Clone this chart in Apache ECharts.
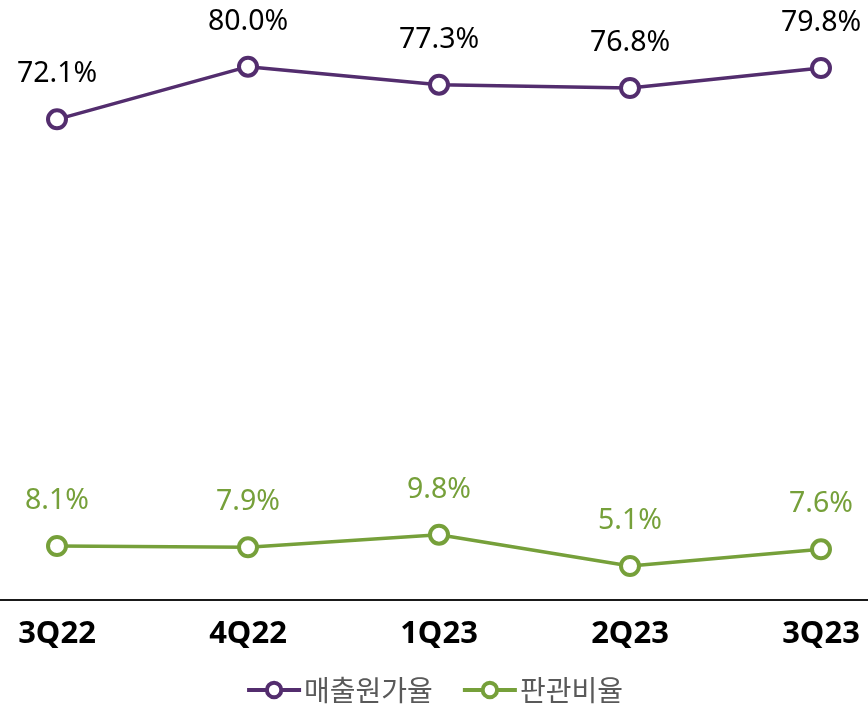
<!DOCTYPE html>
<html>
<head>
<meta charset="utf-8">
<script src="https://cdn.jsdelivr.net/npm/echarts@6/dist/echarts.min.js"></script>
<style>
  html, body { margin: 0; padding: 0; background: #fff; }
  #main { width: 868px; height: 709px; }
</style>
</head>
<body>
<div id="main"></div>
<script>
const quarters = ['3Q22', '4Q22', '1Q23', '2Q23', '3Q23']
const costRatio = [72.1, 80.0, 77.3, 76.8, 79.8]   // 매출원가율
const sgaRatio = [8.1, 7.9, 9.8, 5.1, 7.6]        // 판관비율

const font = '"Noto Sans", "Noto Sans CJK KR", sans-serif'
const krFont = '"Noto Sans CJK KR", sans-serif'
const purple = '#532d6e'
const green = '#76a03a'

const chart = echarts.init(document.getElementById('main'))

function lineSeries(name, data, color, labelColor) {
  return {
    name: name,
    type: 'line',
    data: data,
    symbol: 'circle',
    symbolSize: 18,
    lineStyle: { color: color, width: 3.5 },
    itemStyle: { color: '#fff', borderColor: color, borderWidth: 4 },
    label: {
      show: true,
      position: 'top',
      distance: 20,
      color: labelColor,
      fontFamily: font,
      fontSize: 28.5,
      formatter: p => p.value.toFixed(1) + '%'
    }
  }
}

chart.setOption({
  animation: false,
  textStyle: { fontFamily: font },
  // second grid only carries the full-width baseline
  grid: [
    { left: 57, right: 47, top: 0, bottom: 109 },
    { left: 0, right: 0, top: 0, bottom: 109 }
  ],
  legend: {
    bottom: 0,
    left: 'center',
    itemWidth: 54,
    itemHeight: 18,
    itemGap: 28,
    itemStyle: { borderWidth: 4 },
    lineStyle: { width: 4 },
    textStyle: { color: '#595959', fontSize: 28, fontFamily: krFont, padding: [0, 0, 0, -2] },
    data: ['매출원가율', '판관비율']
  },
  xAxis: [
    {
      type: 'category',
      gridIndex: 0,
      data: quarters,
      boundaryGap: false,
      axisLine: { show: false },
      axisTick: { show: false },
      axisLabel: {
        color: '#000',
        fontWeight: 'bold',
        fontSize: 31,
        fontFamily: font,
        margin: 19
      }
    },
    {
      type: 'category',
      gridIndex: 1,
      data: quarters,
      axisLine: { lineStyle: { color: '#1a1a1a', width: 2 } },
      axisTick: { show: false },
      axisLabel: { show: false }
    }
  ],
  yAxis: [
    { type: 'value', gridIndex: 0, min: 0, max: 90, show: false },
    { type: 'value', gridIndex: 1, min: 0, max: 90, show: false }
  ],
  series: [
    lineSeries('매출원가율', costRatio, purple, '#000'),
    lineSeries('판관비율', sgaRatio, green, green)
  ]
})
</script>
</body>
</html>
